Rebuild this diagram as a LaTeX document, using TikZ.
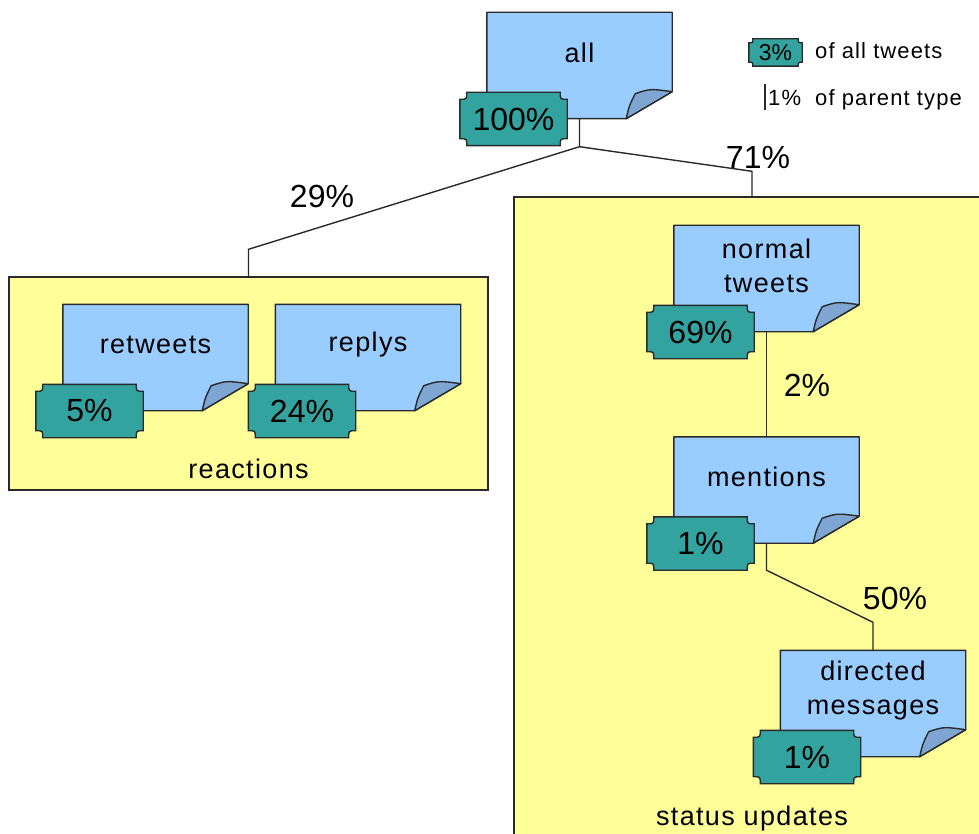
\documentclass[tikz,border=0pt]{standalone}
\usepackage{fontspec}
\setmainfont{Liberation Sans}
\newfontfamily\lblfont[LetterSpace=5]{Liberation Sans}
\newfontfamily\numfont{Liberation Sans}
\usetikzlibrary{calc}
\pgfdeclarelayer{bg}
\pgfdeclarelayer{mid}
\pgfsetlayers{bg,mid,main}
\definecolor{paper}{HTML}{99CCFF}
\definecolor{curl}{HTML}{7FA6D3}
\definecolor{badgeteal}{HTML}{33A39F}
\definecolor{groupyellow}{HTML}{FFFF99}
\definecolor{ink}{HTML}{2A2A2A}

% sheet of paper with a curled lower right corner, drawn round a node
\newcommand\foldedpage[1]{%
  \path[pagefill] (#1.north west) -- (#1.north east) -- ([yshift=27pt]#1.south east)
    -- ([xshift=-46pt]#1.south east) -- (#1.south west) -- cycle;
  \path[flap] ([xshift=-46pt]#1.south east)
    .. controls ([xshift=-43pt,yshift=13pt]#1.south east) .. ([xshift=-37pt,yshift=25pt]#1.south east)
    .. controls ([xshift=-22pt,yshift=30pt]#1.south east) .. ([yshift=27pt]#1.south east) -- cycle;
}
% plaque with concave corners, drawn round a node
\newcommand\plaque[2][7pt]{%
  \path[plaquefill] ([xshift=#1]#2.north west) -- ([xshift=-#1]#2.north east)
    .. controls ([xshift=-#1,yshift=-#1]#2.north east) .. ([yshift=-#1]#2.north east)
    -- ([yshift=#1]#2.south east)
    .. controls ([xshift=-#1,yshift=#1]#2.south east) .. ([xshift=-#1]#2.south east)
    -- ([xshift=#1]#2.south west)
    .. controls ([xshift=#1,yshift=#1]#2.south west) .. ([yshift=#1]#2.south west)
    -- ([yshift=-#1]#2.north west)
    .. controls ([xshift=#1,yshift=-#1]#2.north west) .. ([xshift=#1]#2.north west) -- cycle;
}

\begin{document}
\begin{tikzpicture}[x=1pt,y=-1pt,
  group/.style={draw=ink, line width=1.4pt, fill=groupyellow, inner sep=0pt},
  grouplabel/.style={font=\lblfont\fontsize{27}{34}\selectfont, inner sep=0pt},
  page/.style={minimum width=185pt, minimum height=106pt, inner sep=0pt},
  pagelabel/.style={font=\lblfont\fontsize{27}{34}\selectfont, align=center, inner sep=0pt, yshift=13pt},
  badge/.style={minimum width=107pt, minimum height=53pt, inner sep=0pt, font=\numfont\fontsize{32}{38}\selectfont},
  edgelabel/.style={font=\numfont\fontsize{32}{38}\selectfont, inner sep=0pt},
  legendtext/.style={font=\lblfont\fontsize{22}{26}\selectfont, inner sep=0pt},
  conn/.style={draw=ink, line width=1.4pt},
  pagefill/.style={fill=paper, draw=ink, line width=1.4pt, line join=round},
  flap/.style={fill=curl, draw=ink, line width=1.4pt, line join=round},
  plaquefill/.style={fill=badgeteal, draw=ink, line width=1.4pt}
]
\useasboundingbox (0,0) rectangle (979,834);
\clip (0,0) rectangle (979,834);

% groups
\begin{pgfonlayer}{bg}
  \node[group, minimum width=479pt, minimum height=213pt] (react) at (248.5,383.5) {};
  \node[group, minimum width=476pt, minimum height=643pt] (stat) at (752,518.5) {};
\end{pgfonlayer}
\node[grouplabel] (reactlbl) at ([yshift=22pt]react.south) {reactions};
\node[grouplabel] (statlbl) at ([yshift=22pt]stat.south) {status updates};

% tweet types
\node[page] (all) at (579.5,65.5) {};
\node[page] (rt)  at (155.5,357.5) {};
\node[page] (rp)  at (368,357.5) {};
\node[page] (nt)  at (766.5,278.5) {};
\node[page] (men) at (766.5,490) {};
\node[page] (dm)  at (873,703.5) {};

\node[pagelabel] (allt) at (all) {all};
\node[pagelabel] (rtt)  at (rt)  {retweets};
\node[pagelabel] (rpt)  at (rp)  {replys};
\node[pagelabel] (ntt)  at (nt)  {normal\\tweets};
\node[pagelabel] (ment) at (men) {mentions};
\node[pagelabel] (dmt)  at (dm)  {directed\\messages};

% shares of all tweets
\node[badge] (allb) at ([xshift=-66pt,yshift=-53.5pt]all.center) {100\%};
\node[badge] (rtb)  at ([xshift=-66pt,yshift=-53.5pt]rt.center)  {5\%};
\node[badge] (rpb)  at ([xshift=-66pt,yshift=-53.5pt]rp.center)  {24\%};
\node[badge] (ntb)  at ([xshift=-66pt,yshift=-53.5pt]nt.center)  {69\%};
\node[badge] (menb) at ([xshift=-66pt,yshift=-53.5pt]men.center) {1\%};
\node[badge] (dmb)  at ([xshift=-66pt,yshift=-53.5pt]dm.center)  {1\%};

% shares of parent type
\node[edgelabel] (l29) at (322,196) {29\%};
\node[edgelabel] (l71) at (758,157) {71\%};
\node[edgelabel] (l2)  at (807,385) {2\%};
\node[edgelabel] (l50) at (895,598) {50\%};

% legend
\node[badge, minimum width=53pt, minimum height=27pt, font=\numfont\fontsize{23}{26}\selectfont] (leg) at (775.5,52.5) {3\%};
\node[legendtext, anchor=base west] (legA) at (815,59) {of all tweets};
\node[legendtext, anchor=base west] (legP) at (768,106) {1\%};
\node[legendtext, anchor=base west] (legB) at (815,106) {of parent type};

\coordinate (j0) at ([yshift=-28pt]all.south);
\coordinate (jl) at ([yshift=27pt]react.north);
\coordinate (jr) at ([yshift=25pt]stat.north);
\coordinate (m1) at ([yshift=-27pt]men.south);
\coordinate (m2) at ([yshift=28pt]dm.north);
\coordinate (barT) at (765,84);
\coordinate (barB) at (765,110);

\begin{pgfonlayer}{mid}
  \draw[conn] (all.south) -- (j0) -- (jl) -- (react.north);
  \draw[conn] (j0) -- (jr) -- (stat.north);
  \draw[conn] (nt.south) -- (men.north);
  \draw[conn] (men.south) -- (m1) -- (m2) -- (dm.north);
  \draw[conn, line width=1.1pt] (barT) -- (barB);
  \foldedpage{all}
  \foldedpage{rt}
  \foldedpage{rp}
  \foldedpage{nt}
  \foldedpage{men}
  \foldedpage{dm}
  \plaque{allb}
  \plaque{rtb}
  \plaque{rpb}
  \plaque{ntb}
  \plaque{menb}
  \plaque{dmb}
  \plaque[4pt]{leg}
\end{pgfonlayer}
\end{tikzpicture}
\end{document}
